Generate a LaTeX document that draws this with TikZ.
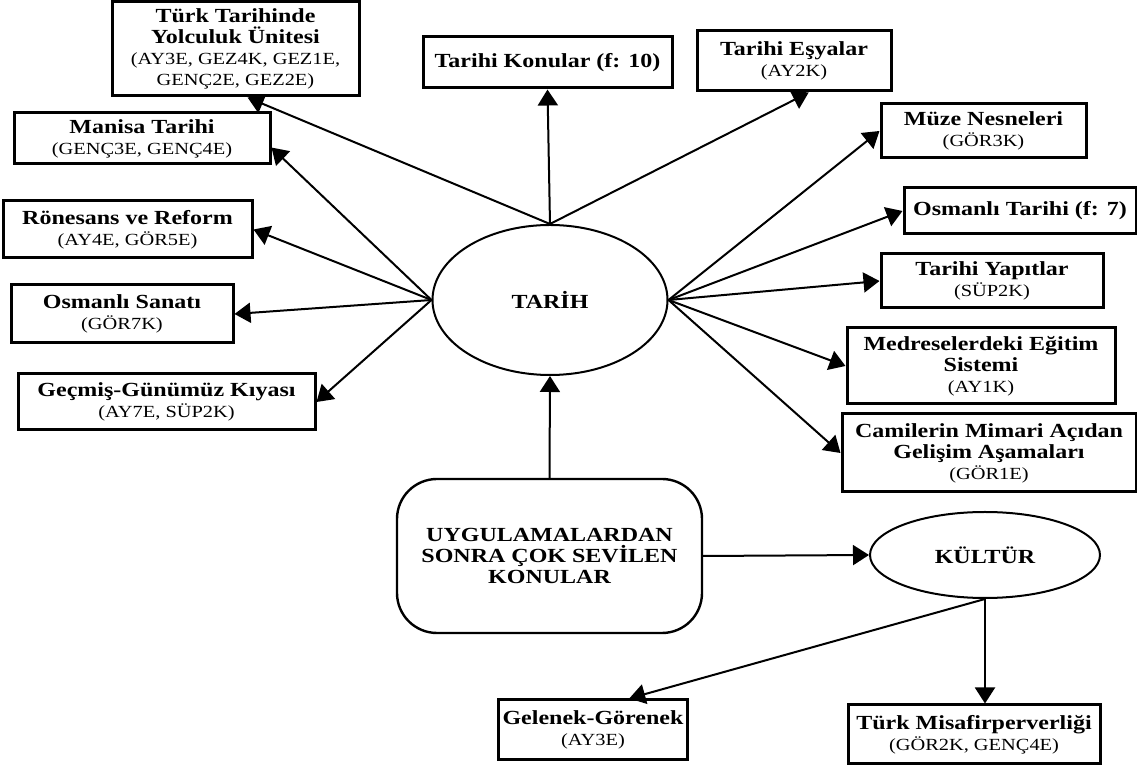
\documentclass[tikz,border=0pt]{standalone}
\usepackage{fontspec}
\setmainfont{Liberation Serif}[FakeStretch=1.2]
\usetikzlibrary{shapes.geometric}
\usetikzlibrary{arrows.meta}
\newcommand{\kod}[1]{{\mdseries\fontsize{8.5}{10.5}\selectfont #1}}

\begin{document}
\begin{tikzpicture}[x=0.5pt,y=-0.5pt,
			mybox/.style={draw, line width=1.5pt, align=center, inner sep=2pt, font=\fontsize{10}{10.5}\selectfont\bfseries},
			myoval/.style={draw, ellipse, line width=1pt, inner sep=1pt, font=\fontsize{10}{10.5}\selectfont\bfseries},
			myarrow/.style={-{Triangle[length=8pt,width=10pt]}, line width=1pt}
		]
		\useasboundingbox (0,0) rectangle (1137,769);

		\node[myoval, minimum width=117.5pt, minimum height=75pt] (tarih) at (550,300) {TARİH};
		\node[myoval, minimum width=115pt, minimum height=43pt] (kultur) at (985,555) {KÜLTÜR};
		\node[draw, rounded corners=20pt, line width=1.2pt, align=center, minimum width=152.5pt, minimum height=77pt, font=\fontsize{10}{10.5}\selectfont\bfseries] (konu) at (549.5,556) {UYGULAMALARDAN\\SONRA ÇOK SEVİLEN\\KONULAR};

		\node[mybox, minimum width=123.5pt, minimum height=47pt] (turk) at (235.5,49) {Türk Tarihinde\\Yolculuk Ünitesi\\\kod{(AY3E, GEZ4K, GEZ1E,}\\\kod{GENÇ2E, GEZ2E)}};
		\node[mybox, minimum width=128pt, minimum height=25.5pt] (manisa) at (142,138.5) {Manisa Tarihi\\\kod{(GENÇ3E, GENÇ4E)}};
		\node[mybox, minimum width=124.5pt, minimum height=25.5pt] (konular) at (547.5,62.5) {Tarihi Konular (f: 10)};
		\node[mybox, minimum width=97pt, minimum height=30pt] (esya) at (794,61) {Tarihi Eşyalar\\\kod{(AY2K)}};
		\node[mybox, minimum width=102.5pt, minimum height=27pt] (muze) at (983.5,131) {Müze Nesneleri\\\kod{(GÖR3K)}};
		\node[mybox, minimum width=116pt, minimum height=23pt] (osmtarih) at (1020,211) {Osmanlı Tarihi (f: 7)};
		\node[mybox, minimum width=111pt, minimum height=27pt] (yapit) at (992,281) {Tarihi Yapıtlar\\\kod{(SÜP2K)}};
		\node[mybox, minimum width=134pt, minimum height=38pt] (medrese) at (981,366) {Medreselerdeki Eğitim\\Sistemi\\\kod{(AY1K)}};
		\node[mybox, minimum width=147pt, minimum height=39pt] (cami) at (989,453) {Camilerin Mimari Açıdan\\Gelişim Aşamaları\\\kod{(GÖR1E)}};
		\node[mybox, minimum width=124.5pt, minimum height=28.5pt] (ronesans) at (127.5,229.5) {Rönesans ve Reform\\\kod{(AY4E, GÖR5E)}};
		\node[mybox, minimum width=111pt, minimum height=29pt] (sanat) at (122,314) {Osmanlı Sanatı\\\kod{(GÖR7K)}};
		\node[mybox, minimum width=148.5pt, minimum height=28pt] (gecmis) at (166.5,402) {Geçmiş-Günümüz Kıyası\\\kod{(AY7E, SÜP2K)}};
		\node[mybox, minimum width=90pt, minimum height=30pt] (gelenek) at (593,730) {Gelenek-Görenek\\\kod{(AY3E)}};
		\node[mybox, minimum width=126pt, minimum height=29.5pt] (misafir) at (974,734.5) {Türk Misafirperverliği\\\kod{(GÖR2K, GENÇ4E)}};

		\draw[myarrow] (konu.north) -- (tarih.south);
		\draw[myarrow] (konu.east) -- (kultur.west);
		\draw[myarrow] (kultur.south) -- (kultur.south |- misafir.north);
		\draw[myarrow] (kultur.south) -- (gelenek.41);

		\draw[myarrow] (tarih.north) -- (turk.-76);
		\draw[myarrow] (tarih.north) -- (konular.south);
		\draw[myarrow] (tarih.north) -- (esya.-65);

		\draw[myarrow] (tarih.west) -- (manisa.-4);
		\draw[myarrow] (tarih.west) -- (ronesans.east);
		\draw[myarrow] (tarih.west) -- (sanat.east);
		\draw[myarrow] (tarih.west) -- (gecmis.east);

		\draw[myarrow] (tarih.east) -- (muze.west);
		\draw[myarrow] (tarih.east) -- (osmtarih.west);
		\draw[myarrow] (tarih.east) -- (yapit.west);
		\draw[myarrow] (tarih.east) -- (medrese.west);
		\draw[myarrow] (tarih.east) -- (cami.west);

	\end{tikzpicture}
\end{document}
